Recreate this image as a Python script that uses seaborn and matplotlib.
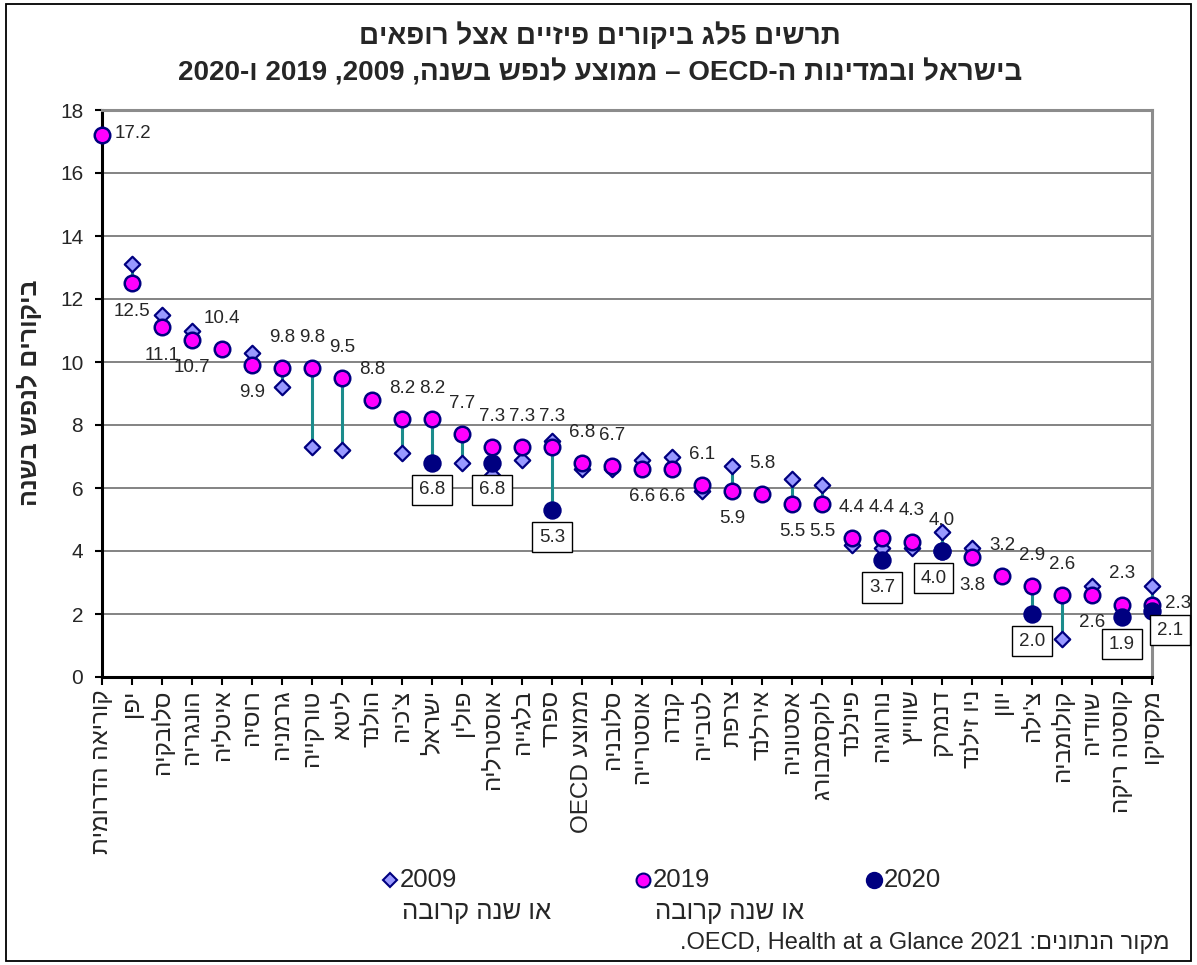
import numpy as np
import pandas as pd
import matplotlib
matplotlib.use("Agg")
import matplotlib.pyplot as plt
from matplotlib.lines import Line2D
from matplotlib.patches import Rectangle
import seaborn as sns

# ---- data (visits per capita) ----
countries = ["קוריאה הדרומית", "יפן", "סלובקיה", "הונגריה", "איטליה", "רוסיה", "גרמניה",
             "טורקייה", "ליטא", "הולנד", "צ'כיה", "ישראל", "פולין", "אוסטרליה", "בלגייה",
             "ספרד", "ממוצע OECD", "סלובניה", "אוסטרייה", "קנדה", "לטבייה", "צרפת", "אירלנד",
             "אסטוניה", "לוקסמבורג", "פינלנד", "נורווגיה", "שווייץ", "דנמרק", "ניו זילנד",
             "יוון", "צ'ילה", "קולומביה", "שוודיה", "קוסטה ריקה", "מקסיקו"]
nan = np.nan
v2009 = [nan, 13.1, 11.5, 11.0, nan, 10.3, 9.2, 7.3, 7.2, nan, 7.1, nan, 6.8, 6.4, 6.9,
         7.5, 6.6, 6.6, 6.9, 7.0, 5.9, 6.7, nan, 6.3, 6.1, 4.2, 4.1, 4.1, 4.6, 4.1,
         nan, nan, 1.2, 2.9, nan, 2.9]
v2019 = [17.2, 12.5, 11.1, 10.7, 10.4, 9.9, 9.8, 9.8, 9.5, 8.8, 8.2, 8.2, 7.7, 7.3, 7.3,
         7.3, 6.8, 6.7, 6.6, 6.6, 6.1, 5.9, 5.8, 5.5, 5.5, 4.4, 4.4, 4.3, 4.0, 3.8,
         3.2, 2.9, 2.6, 2.6, 2.3, 2.3]
v2020 = [nan, nan, nan, nan, nan, nan, nan, nan, nan, nan, nan, 6.8, nan, 6.8, nan,
         5.3, nan, nan, nan, nan, nan, nan, nan, nan, nan, nan, 3.7, nan, 4.0, nan,
         nan, 2.0, nan, nan, 1.9, 2.1]

# where each 2019 value label sits: a = above, b = below, r = right
label_side = ["r", "b", "b", "b", "a", "b", "a", "a", "a", "a", "a", "a", "a", "a", "a",
              "a", "a", "a", "b", "b", "a", "b", "a", "b", "b", "a", "a", "a", "a", "b",
              "a", "a", "a", "b", "a", "r"]

y_ticks = [0, 2, 4, 6, 8, 10, 12, 14, 16, 18]

title_1 = "תרשים 5לג ביקורים פיזיים אצל רופאים"
title_2 = "בישראל ובמדינות ה-OECD – ממוצע לנפש בשנה, 2009, 2019 ו-2020"
y_title = "ביקורים לנפש בשנה"
legend_sub = "או שנה קרובה"
source = "מקור הנתונים: OECD, Health at a Glance 2021."


def visual(s):
    """Reorder a right-to-left paragraph into left-to-right glyph order."""
    n = len(s)
    kind = []
    for ch in s:
        if "\u0590" <= ch <= "\u05FF":
            kind.append("R")
        elif ch.isdigit():
            kind.append("EN")
        elif ch.isalpha():
            kind.append("L")
        else:
            kind.append("N")
    # numbers after Latin text act as Latin
    last = "R"
    for i, k in enumerate(kind):
        if k in ("R", "L"):
            last = k
        elif k == "EN" and last == "L":
            kind[i] = "L"
    strong = ["R" if k == "EN" else k for k in kind]
    res = kind[:]
    i = 0
    while i < n:
        if kind[i] == "N":
            j = i
            while j < n and kind[j] == "N":
                j += 1
            prev = strong[i - 1] if i > 0 else "R"
            nxt = strong[j] if j < n else "R"
            d = prev if prev == nxt else "R"
            for k in range(i, j):
                res[k] = d
            i = j
        else:
            i += 1
    levels = [1 if r == "R" else 2 for r in res]
    chars = list(s)
    for lev in (2, 1):
        i = 0
        while i < n:
            if levels[i] >= lev:
                j = i
                while j < n and levels[j] >= lev:
                    j += 1
                chars[i:j] = chars[i:j][::-1]
                levels[i:j] = levels[i:j][::-1]
                i = j
            else:
                i += 1
    return "".join(chars)


sns.set_theme(style="white")
plt.rcParams["font.family"] = ["Liberation Sans", "DejaVu Sans"]

W, H = 1197, 965
fig = plt.figure(figsize=(W / 100, H / 100), dpi=100)


def fx(x):
    return x / W


def fy(y):
    return 1 - y / H


ax = fig.add_axes([fx(102), fy(677), fx(1152) - fx(102), fy(110) - fy(677)])

pos = np.arange(len(countries))
df = pd.DataFrame({"pos": pos, "country": countries,
                   "y2009": v2009, "y2019": v2019, "y2020": v2020})

NAVY = "#000080"
TEAL = "#1B8C8C"

# connectors between the years
lo = df[["y2009", "y2019", "y2020"]].min(axis=1)
hi = df[["y2009", "y2019", "y2020"]].max(axis=1)
ax.vlines(df["pos"], lo, hi, color=TEAL, lw=2.2, zorder=3)

sns.scatterplot(data=df, x="pos", y="y2009", marker="D", s=62, color="#9999FF",
                edgecolor=NAVY, linewidth=1.6, ax=ax, zorder=4, legend=False)
sns.scatterplot(data=df, x="pos", y="y2019", marker="o", s=125, color="#FF00FF",
                edgecolor=NAVY, linewidth=1.8, ax=ax, zorder=5, legend=False)
sns.scatterplot(data=df, x="pos", y="y2020", marker="o", s=145, color=NAVY,
                edgecolor=NAVY, linewidth=1.2, ax=ax, zorder=6, legend=False)
for c in ax.collections:
    c.set_clip_on(False)

ax.set_xlim(0, len(countries) - 1)
ax.set_ylim(0, 18)
ax.set_yticks(y_ticks)
ax.set_yticklabels([str(t) for t in y_ticks], fontsize=15)
ax.set_xticks(pos)
ax.set_xticklabels([visual(c) for c in countries], rotation=90, fontsize=17.5)
ax.set_xlabel("")
ax.set_ylabel("")
ax.tick_params(axis="y", direction="out", length=5, width=1.5, color="black", pad=8.5, left=True)
ax.tick_params(axis="x", direction="out", length=6, width=1.5, color="black", pad=3, bottom=True)

ax.grid(axis="y", color="#7a7a7a", lw=1.3)
ax.set_axisbelow(True)
for side, col, lw in (("left", "black", 2.2), ("bottom", "black", 2.2),
                      ("right", "#8c8c8c", 2.2), ("top", "#8c8c8c", 2.2)):
    ax.spines[side].set_visible(True)
    ax.spines[side].set_color(col)
    ax.spines[side].set_linewidth(lw)

# value labels for 2019
for p, v, side in zip(pos, v2019, label_side):
    if side == "a":
        ax.annotate(f"{v:.1f}", (p, v), xytext=(0, 22), textcoords="offset points",
                    ha="center", va="center", fontsize=13.5, zorder=7)
    elif side == "b":
        ax.annotate(f"{v:.1f}", (p, v), xytext=(0, -20), textcoords="offset points",
                    ha="center", va="center", fontsize=13.5, zorder=7)
    else:
        ax.annotate(f"{v:.1f}", (p, v), xytext=(9, 1), textcoords="offset points",
                    ha="left", va="center", fontsize=13.5, zorder=7, annotation_clip=False)

# boxed labels for 2020
box_dx = {28: -6, 35: 13}
box_dy = {35: -14}
for p, v in zip(pos, v2020):
    if np.isnan(v):
        continue
    ax.annotate(f"{v:.1f}", (p, v), xytext=(box_dx.get(p, 0), box_dy.get(p, -19.5)),
                textcoords="offset points", ha="center", va="center", fontsize=13.5,
                zorder=8, annotation_clip=False,
                bbox=dict(boxstyle="square,pad=0.35", fc="white", ec="black", lw=1))

# titles
fig.text(fx(600), fy(36), visual(title_1), ha="center", va="center",
         fontsize=20, fontweight="bold")
fig.text(fx(600), fy(73), visual(title_2), ha="center", va="center",
         fontsize=20, fontweight="bold")
fig.text(fx(29), fy(393), visual(y_title), ha="center", va="center", rotation=90,
         fontsize=18, fontweight="bold")

# legend
legend_items = [("2009", "D", "#9999FF", NAVY, 7.5, 390, True),
                ("2019", "o", "#FF00FF", NAVY, 10, 643, True),
                ("2020", "o", NAVY, NAVY, 11, 874, False)]
for lab, mk, fc, ec, ms, x0, sub in legend_items:
    fig.add_artist(Line2D([fx(x0)], [fy(880)], marker=mk, ms=ms, mfc=fc, mec=ec,
                          mew=1.5, ls="none", transform=fig.transFigure))
    fig.text(fx(x0 + 10), fy(880), lab, ha="left", va="center", fontsize=18.5)
    if sub:
        fig.text(fx(x0 + 12), fy(912), visual(legend_sub), ha="left", va="center",
                 fontsize=18.5)

fig.text(fx(1170), fy(943), visual(source), ha="right", va="center", fontsize=17)

# frame around the whole chart
fig.add_artist(Rectangle((fx(6), fy(961)), fx(1191) - fx(6), fy(4) - fy(961),
                         transform=fig.transFigure, fill=False, ec="black", lw=1.3))

fig.savefig("out.png", dpi=100, facecolor="white")
